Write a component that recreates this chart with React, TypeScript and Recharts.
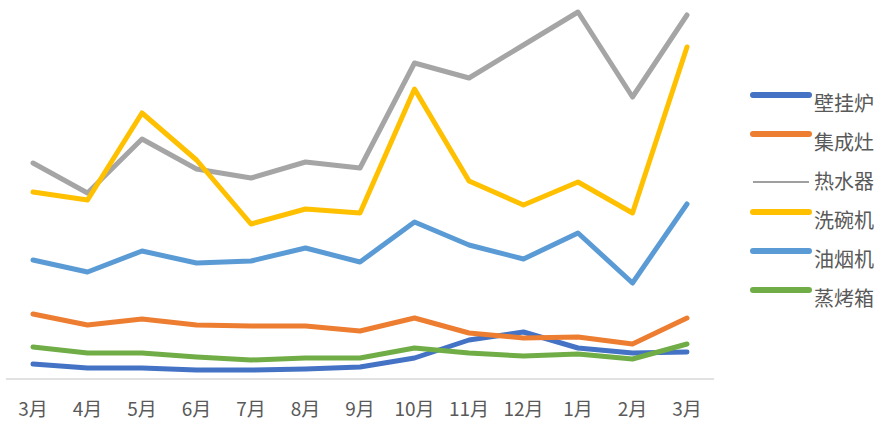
import React from "react";
import { LineChart, Line, XAxis, YAxis } from "recharts";

const months = ["3月", "4月", "5月", "6月", "7月", "8月", "9月", "10月", "11月", "12月", "1月", "2月", "3月"];
const bihuaLu = [15, 11, 11, 9, 9, 10, 12, 21, 39, 47, 31, 26, 27];
const jichengZao = [65, 54, 60, 54, 53, 53, 48, 61, 46, 41, 42, 35, 61];
const reShuiQi = [216, 186, 240, 210, 201, 217, 211, 316, 301, 334, 367, 282, 364];
const xiWanJi = [187, 179, 266, 219, 155, 170, 166, 290, 198, 174, 197, 166, 332];
const youYanJi = [119, 107, 128, 116, 118, 131, 117, 157, 134, 120, 146, 96, 175];
const zhengKaoXiang = [32, 26, 26, 22, 19, 21, 21, 31, 26, 23, 25, 20, 35];

const seriesNames = ["壁挂炉", "集成灶", "热水器", "洗碗机", "油烟机", "蒸烤箱"];
const seriesKeys = ["a", "b", "c", "d", "e", "f"];
const seriesColors = ["#4472C4", "#ED7D31", "#A5A5A5", "#FFC000", "#5B9BD5", "#70AD47"];
const seriesValues = [bihuaLu, jichengZao, reShuiQi, xiWanJi, youYanJi, zhengKaoXiang];

const data = months.map((m, i) => {
  const row: Record<string, string | number> = { m };
  seriesKeys.forEach((k, j) => {
    row[k] = seriesValues[j][i];
  });
  return row;
});

const FONT = "'Noto Sans CJK SC', 'Noto Sans', sans-serif";

export default function App() {
  return (
    <div style={{ position: "absolute", left: 0, top: 0, width: 884, height: 422, background: "#fff" }}>
      <LineChart
        width={884}
        height={422}
        data={data}
        margin={{ top: 9, right: 170, bottom: 0, left: 6 }}
      >
        <XAxis
          dataKey="m"
          height={43}
          padding={{ left: 27, right: 27 }}
          tickLine={false}
          tickSize={0}
          tickMargin={24}
          axisLine={{ stroke: "#D9D9D9", strokeWidth: 1.5 }}
          tick={{ fill: "#595959", fontSize: 19, fontFamily: FONT }}
          interval={0}
        />
        <YAxis hide domain={[0, 370]} />
        {seriesKeys.map((k, j) => (
          <Line
            key={k}
            type="linear"
            dataKey={k}
            name={seriesNames[j]}
            stroke={seriesColors[j]}
            strokeWidth={5}
            strokeLinecap="round"
            strokeLinejoin="round"
            dot={false}
            activeDot={false}
            isAnimationActive={false}
          />
        ))}
      </LineChart>
      <svg
        width={884}
        height={422}
        style={{ position: "absolute", left: 0, top: 0, pointerEvents: "none" }}
      >
        {seriesNames.map((n, j) => {
          const cy = 104 + j * 39;
          const thin = j === 2;
          const ly = thin ? cy : cy - 9;
          return (
            <g key={n}>
              <line
                x1={753}
                x2={809}
                y1={ly}
                y2={ly}
                stroke={thin ? "#7F7F7F" : seriesColors[j]}
                strokeWidth={thin ? 1.5 : 6}
                strokeLinecap={thin ? "butt" : "round"}
              />
              <text
                x={814}
                y={cy}
                dy="0.36em"
                fill="#595959"
                fontSize={20}
                fontFamily={FONT}
              >
                {n}
              </text>
            </g>
          );
        })}
      </svg>
    </div>
  );
}
